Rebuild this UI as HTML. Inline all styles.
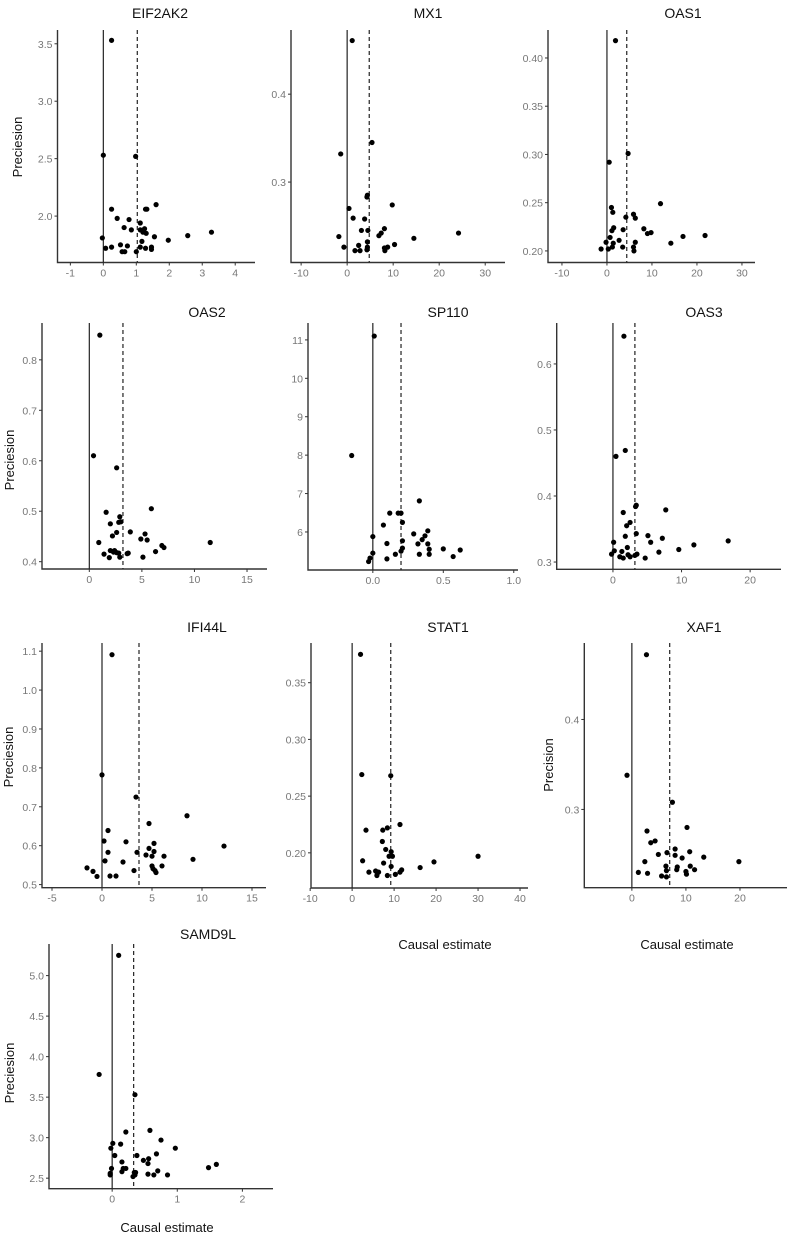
<!DOCTYPE html>
<html><head><meta charset="utf-8">
<style>
html,body{margin:0;padding:0;background:#fff;}
svg{display:block;font-family:"Liberation Sans",sans-serif;}
</style></head>
<body>
<svg id="chart" width="787" height="1238" xmlns="http://www.w3.org/2000/svg"></svg>
<script>
// ---- data (causal estimate, precision) ----
const eif2ak2X=[0.25,0,0.98,0.25,1.6,1.28,1.32,0.42,0.78,1.12,0.63,0.85,1.12,1.25,1.3,1.55,1.97,2.56,3.28,-0.03,1.17,0.07,0.25,0.52,0.73,0.57,0.65,1.0,1.12,1.28,1.46,1.46,1.2];
const eif2ak2Y=[3.53,2.53,2.52,2.06,2.1,2.06,2.06,1.98,1.97,1.94,1.90,1.88,1.88,1.89,1.85,1.82,1.79,1.83,1.86,1.81,1.78,1.72,1.73,1.75,1.74,1.69,1.69,1.69,1.73,1.72,1.73,1.71,1.86];
const mx1X=[1.1,-1.4,5.4,4.3,9.8,0.4,1.3,3.8,3.1,4.5,6.9,8.1,7.4,-1.8,-0.7,2.5,4.4,4.4,1.7,2.8,4.3,8.1,8.8,10.3,8.2,14.5,24.2,4.4];
const mx1Y=[0.461,0.332,0.345,0.283,0.274,0.270,0.259,0.258,0.245,0.245,0.239,0.247,0.242,0.238,0.226,0.228,0.232,0.226,0.222,0.222,0.223,0.225,0.226,0.229,0.222,0.236,0.242,0.285];
const oas1X=[1.9,0.5,4.7,1.0,1.3,4.2,5.9,6.3,11.9,1.5,1.1,3.6,8.2,9.0,9.8,16.9,21.8,14.2,2.7,0.7,-0.2,1.4,3.5,6.3,5.9,-1.3,0.3,6.0,1.2];
const oas1Y=[0.418,0.292,0.301,0.245,0.240,0.235,0.238,0.234,0.249,0.224,0.221,0.222,0.223,0.218,0.219,0.215,0.216,0.208,0.211,0.214,0.209,0.208,0.204,0.209,0.204,0.202,0.202,0.200,0.204];
const oas2X=[1.0,0.4,2.6,5.9,1.6,2.9,2.0,2.8,3.0,3.9,2.6,2.2,5.3,4.9,5.5,0.9,11.5,6.9,7.1,6.3,1.4,2.0,2.4,2.8,3.6,3.7,1.9,2.9,5.1,2.6,2.3];
const oas2Y=[0.849,0.610,0.586,0.505,0.498,0.489,0.475,0.478,0.479,0.459,0.458,0.451,0.455,0.445,0.443,0.438,0.438,0.432,0.428,0.420,0.415,0.422,0.422,0.417,0.416,0.417,0.408,0.409,0.409,0.418,0.419];
const sp110X=[0.01,-0.15,0.0,0.075,0.12,0.18,0.1,0.1,0.16,-0.03,-0.02,0.0,0.2,0.21,0.21,0.21,0.2,0.33,0.29,0.32,0.35,0.37,0.39,0.39,0.40,0.40,0.33,0.50,0.57,0.62];
const sp110Y=[11.1,7.99,5.88,6.18,6.49,6.49,5.70,5.30,5.42,5.23,5.32,5.45,6.49,6.25,5.77,5.58,5.50,6.81,5.95,5.69,5.80,5.9,6.03,5.69,5.55,5.42,5.42,5.56,5.36,5.53];
const oas3X=[1.6,0.44,1.8,3.4,3.3,1.5,7.7,2.5,2.0,1.8,3.4,5.1,5.5,7.2,11.8,9.6,16.8,0.1,0.2,1.3,2.1,3.2,2.2,2.5,-0.2,1.0,1.5,4.7,6.7,3.5];
const oas3Y=[0.642,0.460,0.469,0.386,0.384,0.375,0.379,0.360,0.355,0.339,0.343,0.340,0.330,0.336,0.326,0.319,0.332,0.330,0.317,0.316,0.322,0.310,0.311,0.308,0.312,0.308,0.306,0.306,0.315,0.312];
const ifi44lX=[1.0,0.0,3.4,8.5,4.7,0.6,12.2,0.2,2.4,9.1,5.2,4.7,4.4,5.2,3.5,0.6,6.2,5.0,0.3,2.1,6.0,5.0,5.1,5.3,5.4,-1.5,-0.9,-0.5,0.8,1.4,3.2];
const ifi44lY=[1.091,0.782,0.725,0.677,0.657,0.639,0.599,0.612,0.610,0.565,0.606,0.593,0.576,0.585,0.583,0.583,0.573,0.573,0.561,0.558,0.548,0.548,0.541,0.536,0.531,0.543,0.534,0.521,0.522,0.522,0.536];
const stat1X=[2.0,2.3,9.2,3.3,2.5,7.3,8.4,7.2,8.0,8.8,9.3,9.6,9.3,7.5,4.0,5.6,5.9,6.3,8.4,10.3,11.4,11.8,11.4,16.2,19.5,30.0];
const stat1Y=[0.375,0.269,0.268,0.220,0.193,0.220,0.222,0.210,0.203,0.197,0.201,0.197,0.188,0.191,0.183,0.184,0.180,0.183,0.180,0.181,0.225,0.185,0.183,0.187,0.192,0.197];
const xaf1X=[2.7,-0.9,7.5,2.8,10.2,3.5,4.3,8.0,10.7,4.9,6.5,8.0,9.3,13.3,19.8,2.4,1.2,2.9,6.3,8.4,10.8,11.6,10.0,10.1,5.5,6.4,8.3,6.4];
const xaf1Y=[0.472,0.338,0.308,0.276,0.280,0.263,0.265,0.256,0.253,0.250,0.252,0.249,0.246,0.247,0.242,0.242,0.230,0.229,0.237,0.236,0.237,0.233,0.231,0.228,0.226,0.225,0.233,0.232];
const samd9lX=[0.1,-0.2,0.35,0.58,0.21,0.75,0.01,0.13,0.97,-0.02,0.04,0.38,0.68,0.56,0.48,0.15,0.55,1.48,1.60,0.17,0.21,-0.01,0.70,0.15,-0.03,0.34,0.55,0.64,0.85,0.35,-0.03,0.32,0.36];
const samd9lY=[5.25,3.78,3.53,3.09,3.07,2.97,2.93,2.92,2.87,2.87,2.78,2.78,2.80,2.74,2.72,2.70,2.68,2.63,2.67,2.62,2.62,2.62,2.59,2.58,2.56,2.57,2.55,2.54,2.54,2.54,2.54,2.52,2.57];
// ---- tick labels ----
const eif2ak2XT=[-1,0,1,2,3,4], eif2ak2YT=["2.0","2.5","3.0","3.5"];
const mx1XT=[-10,0,10,20,30], mx1YT=["0.3","0.4"];
const oas1XT=[-10,0,10,20,30], oas1YT=["0.20","0.25","0.30","0.35","0.40"];
const oas2XT=[0,5,10,15], oas2YT=["0.4","0.5","0.6","0.7","0.8"];
const sp110XT=["0.0","0.5","1.0"], sp110YT=["6","7","8","9","10","11"];
const oas3XT=[0,10,20], oas3YT=["0.3","0.4","0.5","0.6"];
const ifi44lXT=[-5,0,5,10,15], ifi44lYT=["0.5","0.6","0.7","0.8","0.9","1.0","1.1"];
const stat1XT=[-10,0,10,20,30,40], stat1YT=["0.20","0.25","0.30","0.35"];
const xaf1XT=[0,10,20], xaf1YT=["0.3","0.4"];
const samd9lXT=[0,1,2], samd9lYT=["2.5","3.0","3.5","4.0","4.5","5.0"];
// ---- pooled estimates (dashed lines) ----
const pooled=[1.03,4.8,4.4,3.2,0.2,3.2,3.7,9.2,7.0,0.33];

const panels=[
 {id:"eif2ak2",title:"EIF2AK2",tx:160,ty:18,box:[57.5,30,255,262.5],xd:[-1.39,4.6],yd:[1.596,3.62],X:eif2ak2X,Y:eif2ak2Y,XT:eif2ak2XT,YT:eif2ak2YT,yl:"Preciesion",ylx:22,yly:147},
 {id:"mx1",title:"MX1",tx:428,ty:18,box:[291,30,505,262.5],xd:[-12.2,34.3],yd:[0.2085,0.473],X:mx1X,Y:mx1Y,XT:mx1XT,YT:mx1YT},
 {id:"oas1",title:"OAS1",tx:683,ty:18,box:[548,30,755,262.5],xd:[-13.1,32.9],yd:[0.188,0.429],X:oas1X,Y:oas1Y,XT:oas1XT,YT:oas1YT},
 {id:"oas2",title:"OAS2",tx:207,ty:317,box:[42,323,267,569],xd:[-4.5,16.9],yd:[0.3855,0.873],X:oas2X,Y:oas2Y,XT:oas2XT,YT:oas2YT,yl:"Preciesion",ylx:14,yly:460},
 {id:"sp110",title:"SP110",tx:448,ty:317,box:[308,323,518,570],xd:[-0.46,1.03],yd:[5.01,11.44],X:sp110X,Y:sp110Y,XT:sp110XT,YT:sp110YT},
 {id:"oas3",title:"OAS3",tx:704,ty:317,box:[556.7,323,781,569.3],xd:[-8.2,24.5],yd:[0.289,0.662],X:oas3X,Y:oas3Y,XT:oas3XT,YT:oas3YT},
 {id:"ifi44l",title:"IFI44L",tx:207,ty:632,box:[42,643,266,887.7],xd:[-6.0,16.4],yd:[0.492,1.121],X:ifi44lX,Y:ifi44lY,XT:ifi44lXT,YT:ifi44lYT,yl:"Preciesion",ylx:13,yly:757},
 {id:"stat1",title:"STAT1",tx:448,ty:632,box:[311,643,528,888],xd:[-9.8,41.9],yd:[0.169,0.385],X:stat1X,Y:stat1Y,XT:stat1XT,YT:stat1YT,xl:"Causal estimate",xlx:445,xly:949},
 {id:"xaf1",title:"XAF1",tx:704,ty:632,box:[584.3,643,787,887.7],xd:[-8.8,28.7],yd:[0.213,0.485],X:xaf1X,Y:xaf1Y,XT:xaf1XT,YT:xaf1YT,yl:"Precision",ylx:553,yly:765,xl:"Causal estimate",xlx:687,xly:949},
 {id:"samd9l",title:"SAMD9L",tx:208,ty:939,box:[49,944,273,1188.7],xd:[-0.97,2.47],yd:[2.37,5.39],X:samd9lX,Y:samd9lY,XT:samd9lXT,YT:samd9lYT,yl:"Preciesion",ylx:14,yly:1073,xl:"Causal estimate",xlx:167,xly:1232}
];
const NS="http://www.w3.org/2000/svg";
const svg=document.getElementById("chart");
function mk(tag,attrs,parent){const e=document.createElementNS(NS,tag);for(const k in attrs)e.setAttribute(k,attrs[k]);parent.appendChild(e);return e;}
panels.forEach((p,pi)=>{
  const [L,T,R,B]=p.box;
  const sx=v=>L+(v-p.xd[0])/(p.xd[1]-p.xd[0])*(R-L);
  const sy=v=>B-(v-p.yd[0])/(p.yd[1]-p.yd[0])*(B-T);
  const g=mk("g",{},svg);
  
  
  const t=mk("text",{x:p.tx,y:p.ty,"text-anchor":"middle","font-size":"14",fill:"#111"},g);
  t.textContent=p.title;
  
  
  // axes
  const ax=mk("path",{d:`M${L},${T}V${B}H${R}`,fill:"none",stroke:"#333","stroke-width":"1.4"},g);
  
  
  p.XT.forEach(v=>{
    const x=sx(parseFloat(v));
    mk("line",{x1:x,x2:x,y1:B,y2:B+3,stroke:"#333","stroke-width":"1"},g);
    const tl=mk("text",{x:x,y:B+14,"text-anchor":"middle","font-size":"10.5",fill:"#777"},g);
    tl.textContent=String(v);
    
    
  });
  p.YT.forEach(v=>{
    const y=sy(parseFloat(v));
    mk("line",{x1:L-3,x2:L,y1:y,y2:y,stroke:"#333","stroke-width":"1"},g);
    const tl=mk("text",{x:L-5,y:y+4,"text-anchor":"end","font-size":"10.5",fill:"#777"},g);
    tl.textContent=v;
    
    
  });
  // zero line and pooled dashed line
  const z=mk("line",{x1:sx(0),x2:sx(0),y1:T,y2:B,stroke:"#222","stroke-width":"1.2"},g);
  
  
  const d=mk("line",{x1:sx(pooled[pi]),x2:sx(pooled[pi]),y1:T,y2:B,stroke:"#222","stroke-width":"1.2","stroke-dasharray":"4,3"},g);
  
  
  p.X.forEach((xv,i)=>{
    const c=mk("circle",{cx:sx(xv),cy:sy(p.Y[i]),r:"2.6",fill:"#000"},g);
    
    
  });
  if(p.yl){
    const yl=mk("text",{x:p.ylx,y:p.yly,"text-anchor":"middle","font-size":"13",fill:"#111",transform:`rotate(-90 ${p.ylx} ${p.yly})`},g);
    yl.textContent=p.yl;
    
    
  }
  if(p.xl){
    const xl=mk("text",{x:p.xlx,y:p.xly,"text-anchor":"middle","font-size":"13",fill:"#111"},g);
    xl.textContent=p.xl;
    
    
  }
});
</script>
</body></html>
